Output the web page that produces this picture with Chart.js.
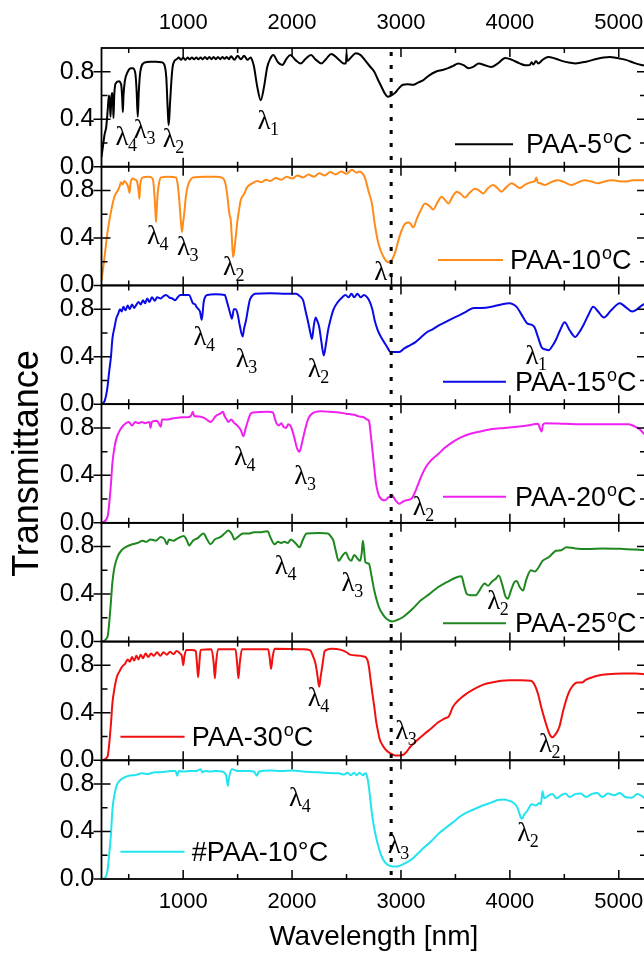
<!DOCTYPE html>
<html><head><meta charset="utf-8">
<script src="https://cdn.jsdelivr.net/npm/chart.js@4/dist/chart.umd.min.js"></script>
<style>html,body{margin:0;padding:0;background:#fff;overflow:hidden;}#wrap{position:relative;width:660px;height:953px;}</style>
</head><body><div id="wrap"><canvas id="c" width="660" height="953"></canvas></div>
<script>
// ---- data: [wavelength nm, transmittance] ----
const paa5 = [[250,0.08],[263,0.17],[278,0.27],[294,0.34],[308,0.49],[318,0.60],[326,0.55],[333,0.42],[340,0.58],[349,0.62],[355,0.55],[360,0.41],[367,0.60],[379,0.70],[409,0.72],[431,0.69],[440,0.58],[446,0.46],[452,0.60],[464,0.72],[491,0.80],[520,0.83],[537,0.83],[560,0.79],[572,0.65],[583,0.42],[592,0.62],[605,0.79],[644,0.876],[700,0.885],[751,0.885],[800,0.88],[827,0.86],[845,0.75],[857,0.505],[866,0.35],[873,0.42],[879,0.53],[890,0.70],[903,0.84],[920,0.89],[940,0.905],[960,0.92],[980,0.90],[1000,0.92],[1020,0.90],[1040,0.92],[1060,0.905],[1080,0.92],[1100,0.905],[1120,0.92],[1140,0.905],[1160,0.92],[1180,0.905],[1200,0.925],[1220,0.905],[1240,0.925],[1260,0.905],[1280,0.925],[1300,0.905],[1320,0.925],[1340,0.905],[1360,0.925],[1380,0.91],[1400,0.925],[1420,0.905],[1440,0.93],[1470,0.90],[1500,0.935],[1530,0.905],[1560,0.935],[1590,0.90],[1620,0.92],[1640,0.88],[1651,0.84],[1681,0.67],[1712,0.56],[1742,0.67],[1772,0.84],[1800,0.91],[1827,0.94],[1870,0.88],[1910,0.857],[1950,0.91],[1985,0.94],[2030,0.90],[2079,0.87],[2125,0.91],[2173,0.94],[2220,0.90],[2267,0.87],[2315,0.91],[2360,0.95],[2420,0.91],[2474,0.87],[2495,0.87],[2500,0.96],[2505,0.89],[2540,0.92],[2586,0.955],[2630,0.94],[2680,0.885],[2720,0.84],[2755,0.80],[2790,0.73],[2812,0.69],[2850,0.62],[2879,0.59],[2910,0.60],[2943,0.62],[2980,0.66],[3018,0.69],[3060,0.695],[3112,0.69],[3160,0.71],[3206,0.73],[3260,0.77],[3319,0.80],[3380,0.815],[3432,0.83],[3480,0.85],[3526,0.87],[3575,0.855],[3620,0.83],[3670,0.845],[3714,0.87],[3770,0.855],[3826,0.84],[3890,0.87],[3958,0.915],[4020,0.90],[4090,0.87],[4140,0.855],[4183,0.857],[4200,0.88],[4215,0.86],[4240,0.89],[4260,0.87],[4300,0.90],[4352,0.925],[4420,0.91],[4502,0.885],[4560,0.875],[4600,0.87],[4700,0.885],[4803,0.91],[4860,0.92],[4916,0.925],[4990,0.915],[5066,0.90],[5140,0.875],[5209,0.857],[5250,0.85]];
const paa10 = [[250,0.04],[278,0.24],[308,0.465],[339,0.63],[370,0.75],[400,0.80],[415,0.83],[430,0.87],[445,0.85],[460,0.88],[480,0.86],[495,0.83],[507,0.78],[518,0.87],[540,0.90],[560,0.89],[575,0.88],[590,0.80],[598,0.73],[606,0.85],[629,0.91],[680,0.915],[720,0.90],[735,0.78],[745,0.62],[751,0.535],[757,0.64],[766,0.775],[780,0.87],[797,0.91],[860,0.915],[934,0.91],[950,0.85],[964,0.72],[978,0.55],[989,0.45],[998,0.52],[1010,0.61],[1025,0.75],[1040,0.83],[1060,0.88],[1090,0.91],[1200,0.915],[1300,0.915],[1361,0.905],[1390,0.85],[1406,0.75],[1425,0.60],[1437,0.55],[1450,0.35],[1458,0.24],[1470,0.30],[1483,0.41],[1495,0.52],[1507,0.60],[1529,0.72],[1559,0.77],[1589,0.83],[1635,0.86],[1680,0.88],[1720,0.87],[1760,0.89],[1800,0.88],[1850,0.905],[1900,0.89],[1950,0.915],[2000,0.90],[2050,0.925],[2100,0.91],[2150,0.935],[2200,0.915],[2250,0.945],[2300,0.925],[2350,0.955],[2400,0.935],[2450,0.96],[2500,0.94],[2550,0.975],[2590,0.95],[2620,0.96],[2650,0.94],[2672,0.90],[2700,0.80],[2733,0.69],[2764,0.49],[2794,0.35],[2840,0.24],[2886,0.195],[2920,0.22],[2947,0.28],[2980,0.39],[3007,0.465],[3038,0.52],[3075,0.53],[3114,0.49],[3145,0.56],[3175,0.62],[3221,0.69],[3260,0.67],[3297,0.64],[3335,0.70],[3373,0.746],[3405,0.72],[3435,0.69],[3475,0.75],[3511,0.79],[3550,0.77],[3587,0.74],[3630,0.78],[3679,0.815],[3715,0.80],[3755,0.775],[3800,0.82],[3846,0.845],[3885,0.82],[3922,0.79],[3970,0.83],[4014,0.86],[4050,0.845],[4091,0.82],[4140,0.85],[4197,0.87],[4230,0.88],[4242,0.91],[4255,0.87],[4280,0.86],[4319,0.845],[4380,0.87],[4441,0.887],[4500,0.87],[4563,0.845],[4620,0.865],[4685,0.887],[4750,0.875],[4807,0.86],[4870,0.875],[4929,0.887],[4990,0.88],[5051,0.875],[5130,0.885],[5209,0.887],[5250,0.885]];
const paa15 = [[255,0.004],[280,0.03],[305,0.144],[320,0.27],[337,0.40],[350,0.55],[370,0.65],[385,0.72],[403,0.76],[420,0.80],[435,0.78],[451,0.82],[470,0.79],[490,0.83],[510,0.80],[530,0.84],[550,0.81],[565,0.83],[590,0.86],[610,0.84],[631,0.875],[650,0.85],[670,0.89],[690,0.86],[713,0.90],[740,0.87],[760,0.90],[794,0.89],[820,0.91],[843,0.92],[870,0.90],[900,0.89],[925,0.875],[950,0.90],[974,0.92],[1020,0.92],[1056,0.92],[1075,0.88],[1089,0.85],[1110,0.84],[1121,0.82],[1140,0.80],[1154,0.78],[1170,0.71],[1180,0.78],[1187,0.85],[1200,0.90],[1220,0.92],[1300,0.925],[1382,0.92],[1400,0.87],[1415,0.82],[1430,0.77],[1448,0.72],[1465,0.80],[1481,0.80],[1500,0.76],[1520,0.66],[1546,0.57],[1560,0.64],[1578,0.71],[1595,0.80],[1611,0.875],[1635,0.915],[1660,0.93],[1800,0.935],[1950,0.93],[2036,0.93],[2070,0.91],[2101,0.875],[2125,0.78],[2150,0.68],[2168,0.60],[2183,0.55],[2198,0.65],[2216,0.73],[2232,0.70],[2249,0.65],[2270,0.52],[2291,0.41],[2310,0.50],[2330,0.62],[2355,0.72],[2379,0.795],[2420,0.86],[2461,0.90],[2490,0.92],[2520,0.90],[2545,0.93],[2570,0.90],[2600,0.93],[2630,0.90],[2660,0.92],[2690,0.90],[2715,0.86],[2738,0.795],[2760,0.70],[2788,0.62],[2820,0.56],[2853,0.51],[2880,0.47],[2902,0.44],[2940,0.44],[2984,0.44],[3030,0.47],[3082,0.496],[3130,0.52],[3180,0.56],[3245,0.61],[3290,0.63],[3340,0.66],[3408,0.69],[3470,0.72],[3539,0.75],[3600,0.78],[3670,0.81],[3740,0.81],[3833,0.82],[3920,0.84],[3997,0.85],[4030,0.84],[4062,0.82],[4110,0.75],[4160,0.68],[4195,0.67],[4225,0.65],[4260,0.56],[4291,0.48],[4330,0.46],[4356,0.454],[4390,0.49],[4422,0.54],[4460,0.62],[4503,0.69],[4550,0.62],[4601,0.566],[4640,0.61],[4683,0.68],[4725,0.76],[4765,0.82],[4810,0.78],[4863,0.73],[4930,0.79],[5009,0.85],[5060,0.82],[5124,0.78],[5170,0.80],[5209,0.83],[5250,0.85]];
const paa20 = [[255,0],[305,0.05],[320,0.15],[337,0.33],[350,0.50],[370,0.64],[390,0.72],[419,0.78],[450,0.82],[500,0.85],[530,0.82],[560,0.85],[590,0.84],[620,0.85],[650,0.84],[690,0.85],[700,0.80],[712,0.85],[760,0.86],[794,0.81],[806,0.87],[850,0.87],[900,0.88],[950,0.885],[991,0.89],[1040,0.89],[1070,0.90],[1089,0.935],[1100,0.90],[1150,0.895],[1200,0.88],[1252,0.85],[1300,0.90],[1340,0.92],[1366,0.935],[1380,0.90],[1400,0.87],[1415,0.85],[1440,0.87],[1470,0.84],[1497,0.82],[1530,0.78],[1553,0.73],[1575,0.80],[1595,0.86],[1620,0.92],[1644,0.93],[1780,0.935],[1824,0.93],[1845,0.87],[1856,0.84],[1880,0.82],[1900,0.84],[1921,0.81],[1945,0.80],[1965,0.83],[1990,0.81],[2020,0.72],[2045,0.63],[2069,0.60],[2090,0.67],[2118,0.78],[2150,0.88],[2183,0.92],[2264,0.94],[2350,0.935],[2430,0.93],[2493,0.92],[2570,0.91],[2620,0.895],[2657,0.89],[2690,0.87],[2706,0.86],[2722,0.75],[2738,0.61],[2755,0.46],[2771,0.33],[2790,0.25],[2804,0.217],[2853,0.19],[2885,0.215],[2919,0.23],[2950,0.19],[2984,0.16],[3020,0.18],[3049,0.19],[3098,0.205],[3125,0.25],[3147,0.30],[3190,0.40],[3229,0.47],[3280,0.53],[3343,0.58],[3400,0.63],[3474,0.68],[3550,0.72],[3637,0.75],[3730,0.77],[3833,0.79],[3950,0.80],[4062,0.81],[4160,0.82],[4258,0.835],[4275,0.80],[4291,0.77],[4305,0.83],[4330,0.84],[4500,0.835],[4715,0.83],[4900,0.83],[5091,0.83],[5150,0.81],[5189,0.79],[5250,0.73]];
const paa25 = [[255,0],[305,0.04],[320,0.15],[337,0.345],[350,0.50],[370,0.63],[400,0.72],[435,0.77],[480,0.80],[533,0.82],[580,0.83],[631,0.85],[660,0.84],[700,0.86],[750,0.85],[794,0.88],[830,0.86],[850,0.82],[870,0.86],[910,0.85],[950,0.87],[1006,0.89],[1030,0.86],[1056,0.81],[1090,0.85],[1130,0.87],[1187,0.91],[1220,0.86],[1250,0.82],[1290,0.86],[1340,0.88],[1380,0.91],[1415,0.935],[1450,0.90],[1470,0.86],[1500,0.88],[1550,0.91],[1600,0.91],[1650,0.92],[1700,0.92],[1775,0.93],[1800,0.88],[1840,0.82],[1870,0.84],[1900,0.83],[1930,0.84],[1960,0.83],[1990,0.86],[2030,0.83],[2069,0.795],[2100,0.86],[2134,0.91],[2250,0.915],[2330,0.91],[2360,0.88],[2379,0.85],[2400,0.77],[2428,0.68],[2460,0.72],[2493,0.75],[2520,0.70],[2543,0.68],[2570,0.73],[2600,0.70],[2625,0.68],[2640,0.75],[2650,0.85],[2660,0.78],[2673,0.67],[2706,0.655],[2730,0.55],[2755,0.43],[2780,0.34],[2804,0.275],[2840,0.22],[2869,0.19],[2918,0.17],[2960,0.18],[3016,0.205],[3100,0.27],[3180,0.345],[3260,0.40],[3343,0.46],[3420,0.50],[3507,0.54],[3556,0.55],[3580,0.47],[3605,0.40],[3640,0.39],[3686,0.39],[3720,0.43],[3768,0.49],[3800,0.47],[3830,0.50],[3870,0.53],[3898,0.556],[3930,0.48],[3960,0.38],[3980,0.36],[4010,0.43],[4040,0.50],[4062,0.51],[4090,0.46],[4120,0.43],[4150,0.52],[4193,0.60],[4230,0.59],[4260,0.62],[4300,0.68],[4356,0.71],[4390,0.74],[4422,0.765],[4470,0.77],[4520,0.795],[4600,0.785],[4715,0.78],[4850,0.785],[5042,0.78],[5150,0.775],[5250,0.77]];
const paa30 = [[255,0],[305,0.03],[320,0.13],[337,0.31],[350,0.48],[370,0.61],[390,0.70],[419,0.755],[440,0.79],[468,0.815],[490,0.85],[510,0.83],[530,0.87],[550,0.84],[570,0.88],[590,0.85],[610,0.89],[630,0.86],[655,0.90],[680,0.87],[705,0.90],[730,0.88],[760,0.91],[790,0.88],[820,0.91],[850,0.89],[880,0.915],[910,0.895],[940,0.92],[970,0.90],[990,0.87],[1000,0.80],[1012,0.88],[1030,0.93],[1080,0.93],[1115,0.92],[1128,0.80],[1137,0.70],[1147,0.80],[1160,0.93],[1260,0.935],[1280,0.82],[1291,0.69],[1302,0.82],[1320,0.935],[1480,0.935],[1495,0.82],[1507,0.69],[1520,0.82],[1540,0.935],[1780,0.935],[1795,0.86],[1807,0.77],[1820,0.86],[1840,0.94],[2100,0.935],[2166,0.925],[2195,0.87],[2216,0.81],[2235,0.70],[2249,0.62],[2262,0.70],[2280,0.81],[2300,0.92],[2363,0.94],[2450,0.93],[2500,0.91],[2530,0.89],[2657,0.875],[2690,0.85],[2706,0.785],[2722,0.67],[2738,0.56],[2755,0.45],[2771,0.334],[2790,0.24],[2804,0.18],[2835,0.12],[2869,0.08],[2910,0.055],[2951,0.04],[3016,0.045],[3050,0.07],[3082,0.11],[3150,0.17],[3212,0.22],[3280,0.27],[3343,0.32],[3408,0.355],[3440,0.37],[3455,0.40],[3474,0.445],[3539,0.515],[3600,0.56],[3670,0.60],[3750,0.635],[3833,0.655],[3920,0.67],[3997,0.675],[4100,0.675],[4193,0.67],[4230,0.63],[4258,0.56],[4290,0.44],[4323,0.334],[4360,0.23],[4389,0.193],[4420,0.22],[4454,0.28],[4490,0.42],[4536,0.56],[4580,0.63],[4617,0.655],[4660,0.655],[4700,0.68],[4760,0.70],[4813,0.715],[4900,0.725],[5042,0.73],[5150,0.73],[5250,0.725]];
const paa10b = [[255,0],[290,0.02],[305,0.07],[320,0.20],[337,0.38],[350,0.58],[370,0.715],[390,0.79],[419,0.83],[460,0.855],[500,0.87],[560,0.875],[620,0.89],[680,0.885],[740,0.90],[794,0.90],[850,0.905],[900,0.91],[930,0.91],[945,0.87],[960,0.91],[1000,0.905],[1060,0.91],[1121,0.91],[1160,0.925],[1175,0.90],[1200,0.91],[1250,0.905],[1300,0.91],[1360,0.905],[1395,0.87],[1410,0.785],[1422,0.86],[1448,0.925],[1500,0.91],[1600,0.91],[1650,0.905],[1677,0.87],[1695,0.905],[1800,0.915],[1900,0.91],[2004,0.915],[2100,0.905],[2200,0.90],[2300,0.895],[2428,0.89],[2480,0.88],[2510,0.895],[2540,0.875],[2570,0.895],[2592,0.875],[2620,0.895],[2650,0.875],[2673,0.89],[2690,0.86],[2706,0.77],[2722,0.64],[2738,0.52],[2760,0.40],[2788,0.29],[2810,0.22],[2836,0.165],[2870,0.125],[2902,0.11],[2950,0.105],[2984,0.11],[3030,0.13],[3082,0.155],[3150,0.21],[3212,0.265],[3280,0.32],[3343,0.38],[3410,0.43],[3474,0.475],[3520,0.51],[3572,0.545],[3640,0.575],[3703,0.60],[3770,0.625],[3833,0.645],[3890,0.665],[3948,0.67],[3990,0.66],[4029,0.645],[4070,0.60],[4095,0.53],[4111,0.505],[4130,0.54],[4160,0.575],[4200,0.63],[4240,0.62],[4270,0.64],[4285,0.63],[4300,0.74],[4315,0.68],[4350,0.70],[4390,0.715],[4430,0.68],[4470,0.705],[4510,0.72],[4550,0.69],[4600,0.715],[4650,0.72],[4700,0.69],[4750,0.715],[4800,0.725],[4850,0.69],[4900,0.72],[4960,0.705],[5009,0.725],[5060,0.69],[5120,0.685],[5170,0.715],[5209,0.70],[5250,0.67]];

const seriesData = [paa5, paa10, paa15, paa20, paa25, paa30, paa10b];
const seriesNames = ['PAA-5°C','PAA-10°C','PAA-15°C','PAA-20°C','PAA-25°C','PAA-30°C','#PAA-10°C'];
const seriesColors = ['#000000','#FF8C1A','#0A0AE6','#F020F0','#1F871F','#F01010','#22E4EE'];
const superscriptO = [true,true,true,true,true,true,false];
// x tick positions (labelled every 1000 nm) and y tick positions (labelled 0.0, 0.4, 0.8)
const xTickValues = [500,1000,1500,2000,2500,3000,3500,4000,4500,5000];
const xTickLabelled = [1000,2000,3000,4000,5000];
const yTickValues = [0,0.2,0.4,0.6,0.8,1.0];
const yTickLabelled = [0,0.4,0.8];
// λ labels per panel: [index, wavelength (centre), transmittance (baseline)]
const lambdaLabels = [
  [[4,438,0.18],[3,607,0.24],[2,873,0.17],[1,1742,0.32]],
  [[4,728,0.353],[3,1003,0.255],[2,1426,0.086],[1,2814,0.044]],
  [[4,1154,0.496],[3,1543,0.313],[2,2203,0.229],[1,4204,0.341]],
  [[4,1526,0.484],[3,2081,0.33],[2,3168,0.062]],
  [[4,1902,0.571],[3,2515,0.43],[2,3853,0.276]],
  [[4,2204,0.46],[3,3008,0.18],[2,4327,0.067]],
  [[4,2033,0.617],[3,2938,0.223],[2,4127,0.32]]
];
// legend placement per panel: [line start wl, line end wl, text wl, transmittance]
const legendPlace = [
  [3496,4029,4148,0.19],[3340,3937,4001,0.214],[3386,3964,4047,0.189],[3386,3964,4047,0.22],
  [3386,3964,4047,0.154],[424,1013,1079,0.199],[424,1013,1079,0.23]
];
const dottedWavelength = 2910;
const xMin = 250, xMax = 5250;

const SANS = '"Liberation Sans", Arial, sans-serif';
const SERIF = '"Liberation Serif", "Times New Roman", serif';
const near = (a,b) => Math.abs(a-b) < 1e-6;
const isMajorY = v => yTickLabelled.some(t => near(t, v));

const datasets = seriesData.map((s,k) => ({
  label: seriesNames[k],
  data: s.map(p => ({x: p[0], y: p[1]})),
  xAxisID: 'x', yAxisID: 'y' + k,
  borderColor: seriesColors[k], borderWidth: 2, pointRadius: 0, fill: false,
  cubicInterpolationMode: 'monotone'
}));

const xTicksCfg = (pad) => ({autoSkip: false, maxRotation: 0, color: '#000', padding: pad,
  font: {family: SANS, size: 22, lineHeight: 1},
  callback: v => (xTickLabelled.includes(v) ? String(v) : '')});

const scales = {
  x: {
    type: 'linear', position: 'bottom', min: xMin, max: xMax,
    grid: {display: false, drawTicks: false}, border: {display: false},
    ticks: xTicksCfg(11.5),
    afterBuildTicks: s => { s.ticks = xTickValues.map(v => ({value: v})); },
    title: {display: true, text: 'Wavelength [nm]', color: '#000', font: {family: SANS, size: 28, lineHeight: 1}, padding: {top: 0, bottom: 2}},
    afterFit: s => { s.height = 74; }
  },
  x2: {
    type: 'linear', position: 'top', min: xMin, max: xMax,
    grid: {display: false, drawTicks: false}, border: {display: false},
    ticks: xTicksCfg(14),
    afterBuildTicks: s => { s.ticks = xTickValues.map(v => ({value: v})); },
    afterFit: s => { s.height = 48; }
  }
};
for (let k = 0; k < 7; k++) {
  scales['y' + k] = {
    type: 'linear', position: 'left', stack: 'panels', stackWeight: 1, weight: 10 - k,
    min: 0, max: 1.0,
    grid: {display: false, drawTicks: false}, border: {display: false},
    afterBuildTicks: s => { s.ticks = yTickValues.map(v => ({value: v})); },
    ticks: {autoSkip: false, color: '#000', padding: 7,
      font: {family: SANS, size: 25, lineHeight: 1}, callback: v => (isMajorY(v) ? v.toFixed(1) : '')},
    title: {display: k === 3, text: 'Transmittance', color: '#000', font: {family: SANS, size: 36, lineHeight: 1}, padding: {top: 10, bottom: 0}},
    afterFit: s => { s.width = 101.5; }
  };
}

const decorations = {
  id: 'decorations',
  afterDatasetsDraw(chart) {
    const ctx = chart.ctx, ca = chart.chartArea, xs = chart.scales.x;
    ctx.save();
    ctx.strokeStyle = '#000';
    ctx.lineCap = 'butt';
    for (let k = 0; k < 7; k++) {
      const ys = chart.scales['y' + k];
      ctx.lineWidth = 1.8;
      ctx.setLineDash([]);
      ctx.strokeRect(ca.left, ys.top, ca.right - ca.left, ys.bottom - ys.top);
      ctx.lineWidth = 1.5;
      ctx.beginPath();
      xs.ticks.forEach(t => {
        const px = xs.getPixelForValue(t.value);
        const L = xTickLabelled.includes(t.value) ? 9 : 5;
        ctx.moveTo(px, ys.bottom); ctx.lineTo(px, ys.bottom - L);
        ctx.moveTo(px, ys.top); ctx.lineTo(px, ys.top + L);
      });
      ys.ticks.forEach(t => {
        if (t.value > 0.95) return;
        const py = ys.getPixelForValue(t.value);
        const major = isMajorY(t.value);
        const L = major ? 9 : 6;
        ctx.moveTo(ca.left - (major ? 8 : 0), py); ctx.lineTo(ca.left + (t.value < 0.05 ? 0 : L), py);
        if (t.value >= 0.05) { ctx.moveTo(ca.right - L, py); ctx.lineTo(ca.right, py); }
      });
      ctx.stroke();
      ctx.fillStyle = '#000';
      lambdaLabels[k].forEach(([n, wl, v]) => {
        const x = xs.getPixelForValue(wl), y = ys.getPixelForValue(v);
        ctx.font = '27px ' + SERIF; ctx.textAlign = 'center'; ctx.textBaseline = 'alphabetic';
        ctx.fillText('λ', x, y);
        ctx.font = '18px ' + SERIF; ctx.textAlign = 'left';
        ctx.fillText(String(n), x + 6, y + 6);
      });
      const [a, b, tx, v] = legendPlace[k];
      const ly = ys.getPixelForValue(v);
      ctx.strokeStyle = seriesColors[k]; ctx.lineWidth = 2;
      ctx.beginPath(); ctx.moveTo(xs.getPixelForValue(a), ly); ctx.lineTo(xs.getPixelForValue(b), ly); ctx.stroke();
      ctx.strokeStyle = '#000';
      let x = xs.getPixelForValue(tx);
      const base = ly + 9;
      ctx.textAlign = 'left'; ctx.textBaseline = 'alphabetic'; ctx.fillStyle = '#000';
      const name = seriesNames[k];
      if (superscriptO[k]) {
        const parts = name.split('°');
        ctx.font = '27px ' + SANS; ctx.fillText(parts[0], x, base); x += ctx.measureText(parts[0]).width + 1;
        ctx.font = '18px ' + SANS; ctx.fillText('o', x, base - 10); x += ctx.measureText('o').width;
        ctx.font = '27px ' + SANS; ctx.fillText(parts[1], x, base);
      } else {
        ctx.font = '27px ' + SANS; ctx.fillText(name, x, base);
      }
    }
    const dx = xs.getPixelForValue(dottedWavelength);
    ctx.strokeStyle = '#000'; ctx.lineWidth = 3; ctx.setLineDash([4, 9]);
    ctx.beginPath(); ctx.moveTo(dx, ca.top + 4); ctx.lineTo(dx, ca.bottom); ctx.stroke();
    ctx.restore();
  }
};

new Chart(document.getElementById('c'), {
  type: 'line',
  data: {datasets},
  options: {
    responsive: false, animation: false, devicePixelRatio: 1,
    layout: {padding: {left: 0, right: 14, top: 0, bottom: 0}},
    plugins: {legend: {display: false}, tooltip: {enabled: false}, title: {display: false}},
    scales
  },
  plugins: [decorations]
});
</script></body></html>
